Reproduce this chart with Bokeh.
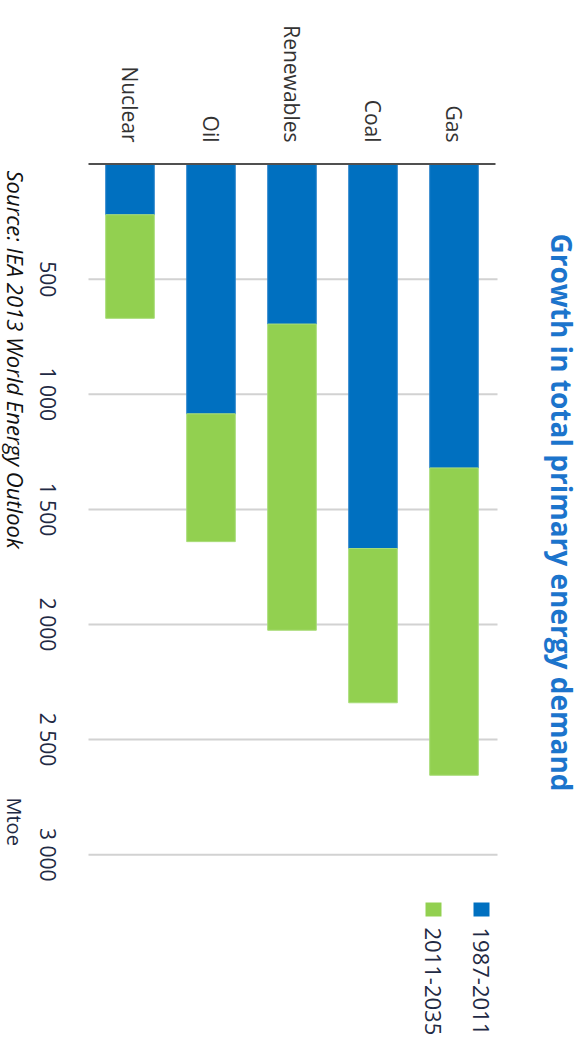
import math
from bokeh.plotting import figure
from bokeh.models import Range1d, ColumnDataSource
from bokeh.core.properties import value
from bokeh.embed import file_html
from bokeh.resources import INLINE

# ---- data ----
categories = ["Nuclear", "Oil", "Renewables", "Coal", "Gas"]
growth_1987_2011 = [220, 1085, 695, 1670, 1320]
growth_2011_2035 = [450, 555, 1330, 670, 1335]
tick_values = [500, 1000, 1500, 2000, 2500, 3000]
tick_labels = ["500", "1 000", "1 500", "2 000", "2 500", "3 000"]
series_labels = ["1987-2011", "2011-2035"]
title_text = "Growth in total primary energy demand"
unit_text = "Mtoe"
source_text = "Source: IEA 2013 World Energy Outlook"

BLUE = "#0070c0"
GREEN = "#92d050"
FONT = "Open Sans"
ROT = -math.pi / 2  # text reads top-to-bottom

W, H = 583, 1059
PX_PER = 0.2302     # pixels per Mtoe
ZERO_PX = 163.6     # pixel row of value 0
SLOT = 81.0         # pixels per category slot
FIRST = 129.5       # pixel column of first category

p = figure(width=W, height=H, output_backend="svg", toolbar_location=None,
           x_range=Range1d(-FIRST / SLOT, (W - FIRST) / SLOT),
           y_range=Range1d(start=(H - ZERO_PX) / PX_PER, end=-ZERO_PX / PX_PER),
           x_axis_location=None, y_axis_location=None, min_border=0)
p.grid.visible = False
p.outline_line_color = None
p.background_fill_color = "white"
p.border_fill_color = "white"
p.extra_x_ranges = {"px": Range1d(0, W)}
p.extra_y_ranges = {"py": Range1d(H, 0)}

# gridlines
p.segment(x0=[88] * len(tick_values), x1=[497] * len(tick_values),
          y0=tick_values, y1=tick_values, x_range_name="px",
          line_color="#d2d2d2", line_width=2)

# bars (category index positions on the x scale)
idx = list(range(len(categories)))
totals = [a + b for a, b in zip(growth_1987_2011, growth_2011_2035)]
src = ColumnDataSource(dict(i=idx, cat=categories, a=growth_1987_2011, tot=totals,
                            zero=[0] * len(categories)))
p.vbar(x="i", bottom="zero", top="a", width=0.6, source=src,
       fill_color=BLUE, line_color="#2f86cc", line_width=1)
p.vbar(x="i", bottom="a", top="tot", width=0.6, source=src,
       fill_color=GREEN, line_color="#a8dc78", line_width=1)

# axis line at zero
p.segment(x0=[88], x1=[495], y0=[0], y1=[0], x_range_name="px",
          line_color="#505050", line_width=2)

# category labels
p.text(x=idx, y=[142] * len(categories), text=categories, y_range_name="py",
       angle=ROT, text_align="right", text_baseline="middle",
       text_font=value(FONT), text_font_size="21px", text_color="#333333")

# value tick labels
p.text(x=[47] * len(tick_values), y=tick_values, text=tick_labels, x_range_name="px",
       angle=ROT, text_align="center", text_baseline="middle",
       text_font=value(FONT), text_font_size="21px", text_color="#1f2a44")

# unit label
p.text(x=[14], y=[797], text=[unit_text], x_range_name="px", y_range_name="py",
       angle=ROT, text_align="left", text_baseline="middle",
       text_font=value(FONT), text_font_size="20px", text_color="#1f2a44")

# source
p.text(x=[15], y=[170], text=[source_text], x_range_name="px", y_range_name="py",
       angle=ROT, text_align="left", text_baseline="middle",
       text_font=value(FONT), text_font_style="italic", text_font_size="22px",
       text_color="#111111")

# title
p.text(x=[561], y=[233], text=[title_text], x_range_name="px", y_range_name="py",
       angle=ROT, text_align="left", text_baseline="middle",
       text_font=value(FONT), text_font_style="bold", text_font_size="28px",
       text_color="#1c74cc")

# legend
p.rect(x=[481, 433], y=[909, 909], width=16, height=14,
       x_range_name="px", y_range_name="py",
       fill_color=[BLUE, GREEN], line_color=None)
p.text(x=[480, 432], y=[927, 927], text=series_labels,
       x_range_name="px", y_range_name="py",
       angle=ROT, text_align="left", text_baseline="middle",
       text_font=value(FONT), text_font_size="22px", text_color="#1f2a44")

open("out.html", "w").write(file_html(p, INLINE))
